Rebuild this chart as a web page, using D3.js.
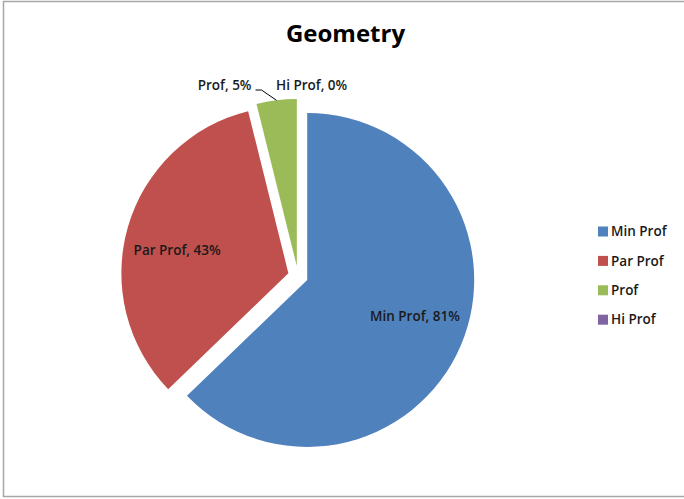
<!DOCTYPE html>
<html>
<head>
<meta charset="utf-8">
<script src="https://cdn.jsdelivr.net/npm/d3@7"></script>
<style>
  body { margin: 0; background: #fff; }
  text { font-family: "Open Sans", Lato, sans-serif; }
</style>
</head>
<body>
<script>
// chart data
const categories = ["Min Prof", "Par Prof", "Prof", "Hi Prof"];
const values = [81, 43, 5, 0];
const colors = ["#4F81BD", "#C0504D", "#9BBB59", "#8064A2"];
const title = "Geometry";

const width = 684;
const height = 499;

const svg = d3.select("body").append("svg")
  .attr("width", width)
  .attr("height", height);

// chart frame
svg.append("rect")
  .attr("x", 3.5)
  .attr("y", 1.5)
  .attr("width", 720)
  .attr("height", 495)
  .attr("fill", "#fff")
  .attr("stroke", "#a6a6a6")
  .attr("stroke-width", 1.5);

svg.append("text")
  .attr("x", 345.5)
  .attr("y", 42)
  .attr("text-anchor", "middle")
  .attr("font-size", 24)
  .attr("font-weight", "bold")
  .attr("fill", "#000")
  .text(title);

const cx = 298, cy = 276;
const radius = 167;
const explode = 10;
const labelSize = 13.5;

const data = categories.map((c, i) => ({ name: c, value: values[i], color: colors[i] }));

const pie = d3.pie()
  .value(d => d.value)
  .sort(null);

const arc = d3.arc()
  .innerRadius(0)
  .outerRadius(radius);

const arcs = pie(data);

const g = svg.append("g")
  .attr("transform", `translate(${cx},${cy})`);

// offset of each exploded slice along its mid angle
function shift(d) {
  const a = (d.startAngle + d.endAngle) / 2;
  return [explode * Math.sin(a), -explode * Math.cos(a)];
}

g.selectAll("path")
  .data(arcs.filter(d => d.value > 0))
  .join("path")
  .attr("transform", d => `translate(${shift(d)})`)
  .attr("d", arc)
  .attr("fill", d => d.data.color);

// labels inside the big slices (excel sits them a bit before the mid angle)
g.selectAll("text.inside")
  .data(arcs.filter(d => d.value > 10))
  .join("text")
  .attr("class", "inside")
  .attr("transform", d => {
    const [sx, sy] = shift(d);
    const a = (d.startAngle + d.endAngle) / 2 - 0.08;
    const r = radius * 0.68;
    return `translate(${sx + r * Math.sin(a)},${sy - r * Math.cos(a)})`;
  })
  .attr("text-anchor", "middle")
  .attr("dy", "0.35em")
  .attr("font-size", labelSize)
  .attr("font-weight", 600)
  .attr("fill", "#1a1a1a")
  .text(d => `${d.data.name}, ${d.data.value}%`);

// small slices: labels outside the pie
const small = arcs.filter(d => d.value <= 10);
const labelY = -radius - 24;

small.forEach((d, i) => {
  const a = (d.startAngle + d.endAngle) / 2;
  const [sx, sy] = shift(d);
  const px = sx + radius * Math.sin(a);
  const py = sy - radius * Math.cos(a);
  if (i === 0) {
    // leader line to the slice
    g.append("polyline")
      .attr("points", [[px, py], [px - 15, labelY + 5], [px - 21, labelY + 5]].join(" "))
      .attr("fill", "none")
      .attr("stroke", "#000")
      .attr("stroke-width", 1);
    g.append("text")
      .attr("x", px - 25)
      .attr("y", labelY)
      .attr("dy", "0.35em")
      .attr("text-anchor", "end")
      .attr("font-size", labelSize)
      .attr("font-weight", 600)
      .attr("fill", "#1a1a1a")
      .text(`${d.data.name}, ${d.data.value}%`);
  } else {
    g.append("text")
      .attr("x", px - 22)
      .attr("y", labelY)
      .attr("dy", "0.35em")
      .attr("text-anchor", "start")
      .attr("font-size", labelSize)
      .attr("font-weight", 600)
      .attr("fill", "#1a1a1a")
      .text(`${d.data.name}, ${d.data.value}%`);
  }
});

// legend
const legend = svg.append("g")
  .attr("transform", "translate(598,231.5)");

const item = legend.selectAll("g")
  .data(data)
  .join("g")
  .attr("transform", (d, i) => `translate(0,${i * 29.4})`);

item.append("rect")
  .attr("x", 0)
  .attr("y", -5)
  .attr("width", 10)
  .attr("height", 10)
  .attr("fill", d => d.color);

item.append("text")
  .attr("x", 13)
  .attr("dy", "0.35em")
  .attr("font-size", labelSize)
  .attr("font-weight", 600)
  .attr("fill", "#1a1a1a")
  .text(d => d.name);
</script>
</body>
</html>
